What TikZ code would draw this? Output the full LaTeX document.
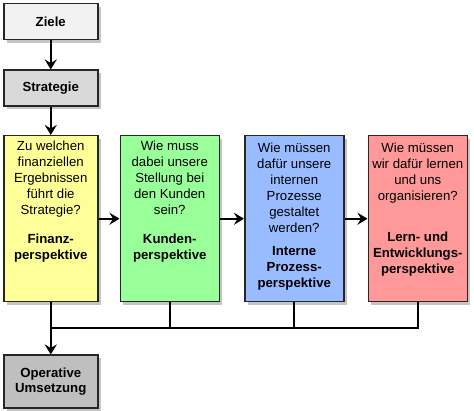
\documentclass[tikz,border=0pt]{standalone}
\usepackage{fontspec}
\setmainfont{Liberation Sans}
\usetikzlibrary{positioning,shadows,arrows.meta}

\definecolor{zielgrau}{RGB}{242,242,242}
\definecolor{stratgrau}{RGB}{217,217,217}
\definecolor{opgrau}{RGB}{191,191,191}
\definecolor{finfarbe}{RGB}{255,255,153}
\definecolor{kundfarbe}{RGB}{153,255,153}
\definecolor{prozfarbe}{RGB}{153,187,255}
\definecolor{lernfarbe}{RGB}{255,153,153}

\begin{document}
\begin{tikzpicture}[>={Stealth[length=10pt,width=12pt,inset=3.5pt]},line width=2pt,
        font=\fontsize{13.2}{16}\selectfont,
        box/.style={draw=black!85,line width=1.5pt,inner sep=0pt,
            drop shadow={shadow xshift=3pt,shadow yshift=-3pt,fill=black!45,opacity=.5}},
        graybox/.style={box,minimum width=94pt,minimum height=36pt,align=center,
            font=\fontsize{13.2}{15.5}\selectfont\bfseries},
        persp/.style={box,minimum width=99pt,minimum height=166pt},
        txt/.style={align=center,inner sep=0pt}]

        \useasboundingbox (0,0) rectangle (474pt,-411pt);

        \node[graybox,fill=zielgrau,anchor=north west] (ziele) at (3pt,-3pt) {Ziele};
        \node[graybox,fill=stratgrau] (strat) [below=29pt of ziele] {Strategie};
        \node[persp,fill=finfarbe,minimum width=94pt] (fin) [below=28pt of strat] {};
        \node[persp,fill=kundfarbe] (kund) [right=21pt of fin] {};
        \node[persp,fill=prozfarbe] (proz) [right=24pt of kund] {};
        \node[persp,fill=lernfarbe] (lern) [right=23pt of proz] {};
        \node[graybox,fill=opgrau,minimum height=53pt] (oper) [below=52pt of fin] {Operative\\Umsetzung};

        % Fragen und Perspektiven
        \node[txt] (fintxt) [below=4.5pt of fin.north] {Zu welchen\\finanziellen\\Ergebnissen\\führt die\\Strategie?\\[13pt]
            \textbf{Finanz-}\\\textbf{perspektive}};
        \node[txt] (kundtxt) [below=4.5pt of kund.north] {Wie muss\\dabei unsere\\Stellung bei\\den Kunden\\sein?\\[13pt]
            \textbf{Kunden-}\\\textbf{perspektive}};
        \node[txt] (proztxt) [below=6.5pt of proz.north] {Wie müssen\\dafür unsere\\internen\\Prozesse\\gestaltet\\werden?\\[7pt]
            \textbf{Interne}\\\textbf{Prozess-}\\\textbf{perspektive}};
        \node[txt] (lerntxt) [below=6.5pt of lern.north] {Wie müssen\\wir dafür lernen\\und uns\\organisieren?\\[25pt]
            \textbf{Lern- und}\\\textbf{Entwicklungs-}\\\textbf{perspektive}};

        \coordinate (bus) at ([yshift=-26pt]fin.south);

        \draw[->] (ziele) -- (strat);
        \draw[->] (strat) -- (fin);
        \draw[->] (fin) -- (kund);
        \draw[->] (kund) -- (proz);
        \draw[->] (proz) -- (lern);
        \draw (kund.south) -- (kund.south |- bus);
        \draw (proz.south) -- (proz.south |- bus);
        \draw (lern.south) |- (bus);
        \draw[->] (fin.south) -- (oper.north);
    \end{tikzpicture}
\end{document}
